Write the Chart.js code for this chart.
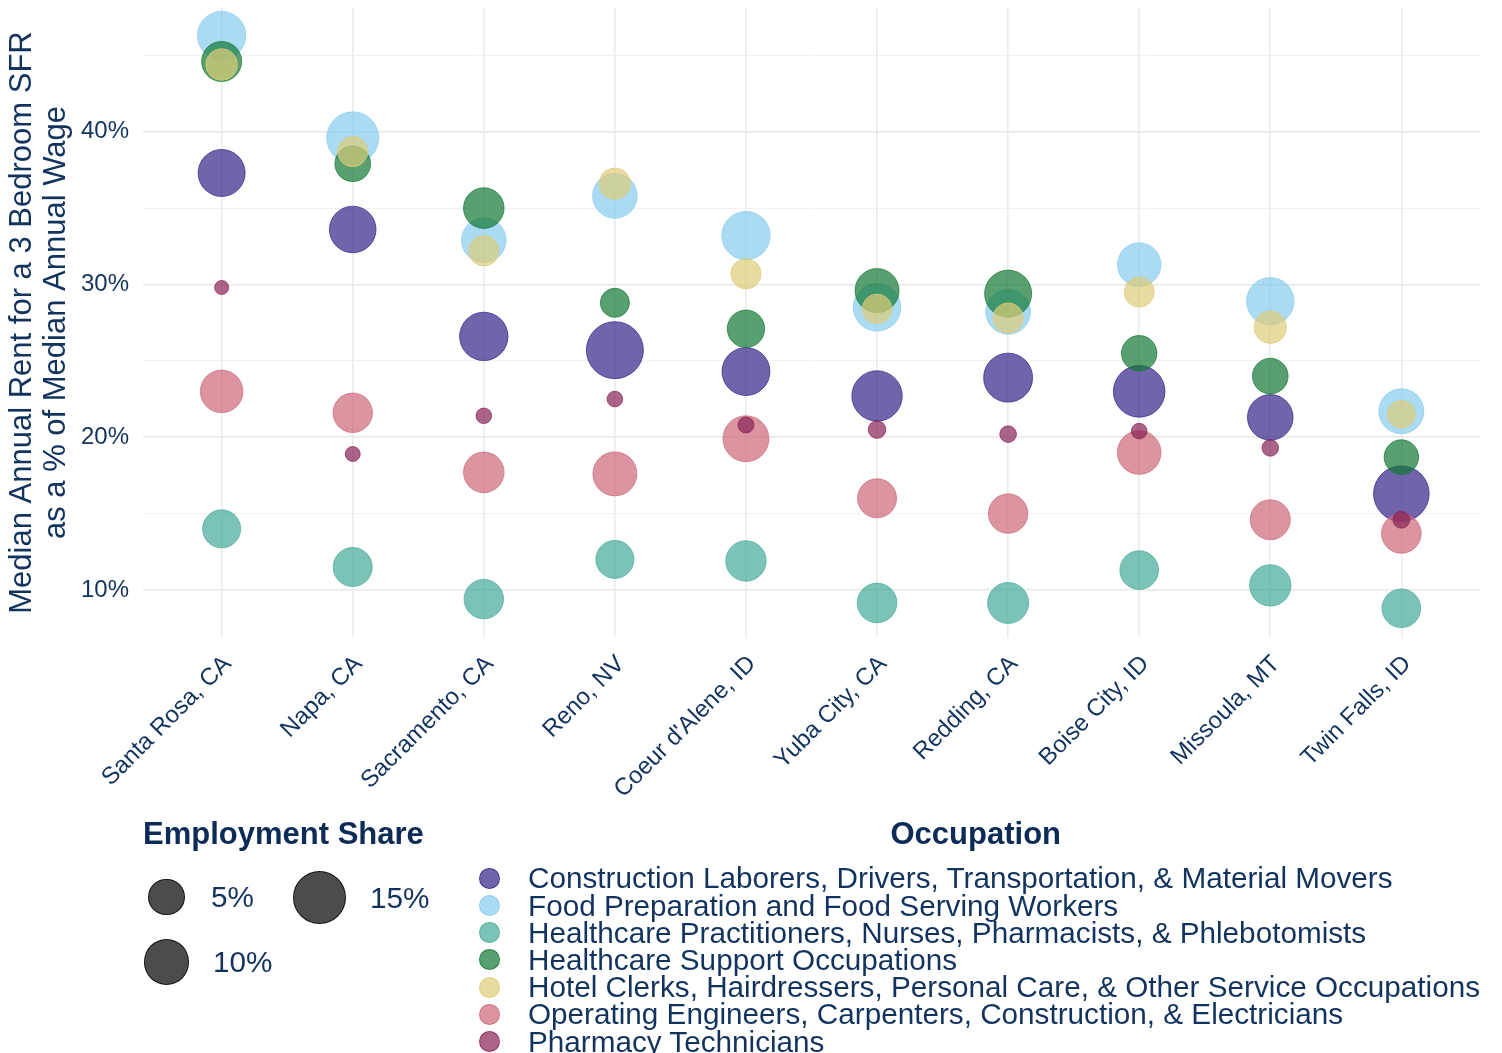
<!DOCTYPE html>
<html>
<head>
<meta charset="utf-8">
<script src="https://cdn.jsdelivr.net/npm/chart.js@4.4.1/dist/chart.umd.min.js"></script>
<style>
  body { margin: 0; background: #fff; }
  #wrap { position: relative; width: 1502px; height: 1053px; font-family: "Liberation Sans", Arial, sans-serif; }
  #chart { position: absolute; left: 0; top: 0; }
  .ttl { position: absolute; font-weight: bold; font-size: 31px; color: #0c2b57; white-space: nowrap; line-height: 36px; }
  .txt { position: absolute; font-size: 29.7px; color: #13335f; white-space: nowrap; }
  .dot { position: absolute; border-radius: 50%; box-sizing: border-box; }
</style>
</head>
<body>
<div id="wrap">
  <canvas id="chart" width="1502" height="1053"></canvas>
  <div id="legends"></div>
</div>
<script>
const cities = ["Santa Rosa, CA", "Napa, CA", "Sacramento, CA", "Reno, NV", "Coeur d'Alene, ID",
  "Yuba City, CA", "Redding, CA", "Boise City, ID", "Missoula, MT", "Twin Falls, ID"];

const occupations = [
  "Construction Laborers, Drivers, Transportation, & Material Movers",
  "Food Preparation and Food Serving Workers",
  "Healthcare Practitioners, Nurses, Pharmacists, & Phlebotomists",
  "Healthcare Support Occupations",
  "Hotel Clerks, Hairdressers, Personal Care, & Other Service Occupations",
  "Operating Engineers, Carpenters, Construction, & Electricians",
  "Pharmacy Technicians"
];
const colors = ["#332288", "#88CCEE", "#44AA99", "#117733", "#DDCC77", "#CC6677", "#882255"];

// median rent as % of median annual wage, by city
const constructionRent = [37.3, 33.6, 26.6, 25.7, 24.3, 22.7, 23.9, 23.0, 21.3, 16.3];
const foodRent = [46.3, 39.6, 32.9, 35.8, 33.2, 28.5, 28.2, 31.3, 28.9, 21.7];
const practitionerRent = [14.0, 11.5, 9.4, 12.0, 11.9, 9.15, 9.15, 11.3, 10.3, 8.8];
const supportRent = [44.6, 37.9, 35.0, 28.8, 27.1, 29.6, 29.4, 25.5, 24.0, 18.7];
const hotelRent = [44.4, 38.7, 32.2, 36.6, 30.7, 28.4, 27.8, 29.5, 27.2, 21.5];
const operatingRent = [23.0, 21.6, 17.7, 17.6, 19.9, 16.0, 15.0, 19.0, 14.6, 13.7];
const pharmacyRent = [29.8, 18.9, 21.4, 22.5, 20.8, 20.5, 20.2, 20.4, 19.3, 14.6];

// employment share (%), by city
const constructionShare = [11.4, 11.1, 12.3, 18.8, 12.0, 13.7, 12.7, 14.6, 10.5, 17.7];
const foodShare = [12.3, 14.9, 9.9, 9.9, 12.3, 11.7, 9.9, 9.3, 11.7, 10.1];
const practitionerShare = [6.3, 6.8, 7.0, 6.3, 7.5, 7.1, 7.8, 6.6, 8.0, 6.6];
const supportShare = [7.3, 5.2, 7.6, 2.7, 6.0, 9.5, 11.4, 5.1, 5.2, 4.7];
const hotelShare = [3.6, 3.1, 3.1, 3.5, 3.1, 2.9, 3.1, 3.0, 3.9, 2.3];
const operatingShare = [8.7, 7.0, 7.6, 9.5, 10.7, 6.8, 7.0, 9.3, 7.3, 7.1];
const pharmacyShare = [0.04, 0.08, 0.12, 0.12, 0.15, 0.29, 0.2, 0.12, 0.2, 0.23];

const yTicks = [10, 15, 20, 25, 30, 35, 40, 45];
const sizeBreaks = [5, 10, 15];

const rents = [constructionRent, foodRent, practitionerRent, supportRent, hotelRent, operatingRent, pharmacyRent];
const shares = [constructionShare, foodShare, practitionerShare, supportShare, hotelShare, operatingShare, pharmacyShare];

const FONT = '"Liberation Sans", Arial, sans-serif';
const TEXT = "#13335f";

// area-style size scale: share % -> radius px
const sizeOf = (s) => 6 + 22 * Math.sqrt(s / 18);

function rgba(hex, a) {
  const n = parseInt(hex.slice(1), 16);
  return `rgba(${(n >> 16) & 255},${(n >> 8) & 255},${n & 255},${a})`;
}

new Chart(document.getElementById("chart"), {
  type: "bubble",
  data: {
    datasets: occupations.map((name, i) => ({
      label: name,
      data: cities.map((c, j) => ({ x: j + 1, y: rents[i][j], r: sizeOf(shares[i][j]) })),
      backgroundColor: rgba(colors[i], 0.7),
      borderColor: rgba(colors[i], 0.7),
      borderWidth: 1,
      order: occupations.length - i,
    })),
  },
  options: {
    responsive: false,
    animation: false,
    layout: { autoPadding: false, padding: { top: 8, right: 22, left: 0, bottom: 0 } },
    plugins: { legend: { display: false }, tooltip: { enabled: false } },
    scales: {
      x: {
        type: "linear",
        min: 0.4,
        max: 10.6,
        afterBuildTicks: (s) => { s.ticks = cities.map((c, j) => ({ value: j + 1 })); },
        afterFit: (s) => {
          s.height = 416;
          s.paddingLeft = 0;
          s.paddingRight = 0;
        },
        ticks: {
          autoSkip: false,
          minRotation: 45,
          maxRotation: 45,
          padding: 13,
          labelOffset: 6,
          color: TEXT,
          font: { family: FONT, size: 24 },
          callback: (v, idx) => cities[idx],
        },
        grid: { color: "#ebebeb", lineWidth: 1.6, drawTicks: false },
        border: { display: false },
      },
      y: {
        min: 6.92,
        max: 48.1,
        afterBuildTicks: (s) => { s.ticks = yTicks.map((v) => ({ value: v })); },
        afterFit: (s) => {
          s.width = 143;
          s.paddingTop = 0;
          s.paddingBottom = 0;
        },
        ticks: {
          padding: 14,
          color: TEXT,
          font: { family: FONT, size: 24 },
          callback: (v) => (v % 10 === 0 ? v + "%" : ""),
        },
        grid: {
          color: (ctx) => (ctx.tick && ctx.tick.value % 10 === 0 ? "#e8e8e8" : "#f0f0f0"),
          lineWidth: (ctx) => (ctx.tick && ctx.tick.value % 10 === 0 ? 1.6 : 0.9),
          drawTicks: false,
        },
        border: { display: false },
        title: {
          display: true,
          text: ["Median Annual Rent for a 3 Bedroom SFR", "as a % of Median Annual Wage"],
          color: TEXT,
          font: { family: FONT, size: 31, lineHeight: 1.1 },
          padding: { top: 5, bottom: 0 },
        },
      },
    },
  },
});

// legends (html)
const box = document.getElementById("legends");
function add(cls, css, text) {
  const el = document.createElement("div");
  el.className = cls;
  Object.assign(el.style, css);
  if (text) el.textContent = text;
  box.appendChild(el);
  return el;
}

// size legend
add("ttl", { left: "143px", top: "816px" }, "Employment Share");
const sizeSpots = [[166.5, 897, 211], [166.5, 962, 213], [319.5, 897.5, 370]];
sizeBreaks.forEach((s, k) => {
  const [cx, cy, tx] = sizeSpots[k];
  const r = sizeOf(s) + 0.5;
  add("dot", {
    left: cx - r + "px", top: cy - r + "px", width: 2 * r + "px", height: 2 * r + "px",
    background: "rgba(0,0,0,0.7)", border: "1.5px solid rgba(0,0,0,0.75)",
  });
  add("txt", { left: tx + "px", top: cy - 18 + "px", lineHeight: "36px" }, s + "%");
});

// occupation legend
const occTitle = add("ttl", { top: "816px" }, "Occupation");
occTitle.style.left = 976 - occTitle.offsetWidth / 2 + "px";
occupations.forEach((name, i) => {
  const cy = 878.3 + 27.2 * i;
  add("dot", {
    left: 489 - 10.5 + "px", top: cy - 10.5 + "px", width: "21px", height: "21px",
    background: rgba(colors[i], 0.7), border: "1px solid " + rgba(colors[i], 0.7),
  });
  add("txt", { left: "528px", top: cy - 18 + "px", lineHeight: "36px" }, name);
});
</script>
</body>
</html>
